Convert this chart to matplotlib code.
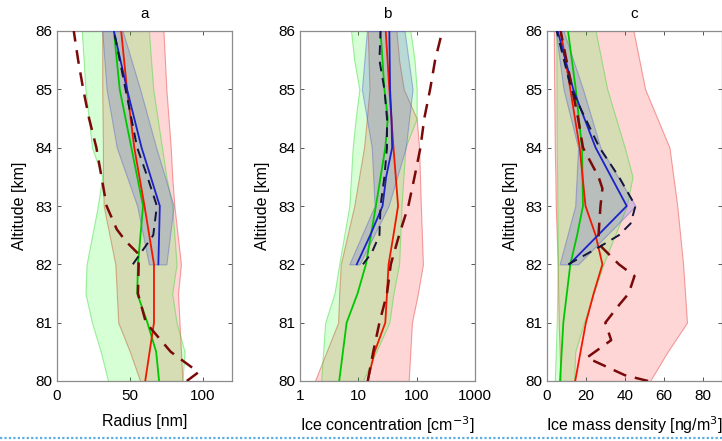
import matplotlib
matplotlib.use("Agg")
import matplotlib.pyplot as plt
from matplotlib.lines import Line2D

plt.rcParams['font.family'] = ['Liberation Sans', 'DejaVu Sans']

# ---------------- Panel a : Radius [nm] ----------------
alt_band_a = [80, 80.5, 81, 81.5, 82, 83, 83.5, 84, 85, 86]
a_green_lo = [35, 30, 24, 19.5, 20.3, 28, 31, 24, 19.5, 17]
a_green_hi = [86, 87.5, 82, 79, 82, 79, 75, 72, 66, 63]
a_red_lo = [57, 50, 42, 41, 40, 32, 31.5, 31.5, 31, 31]
a_red_hi = [86, 85, 84, 83, 85, 80.5, 79, 78, 75, 73]
alt_blue_band = [82, 83, 84, 85, 86]
a_blue_lo = [63, 55, 41, 34, 31]
a_blue_hi = [75, 80, 68, 57, 45]

a_green_alt = [80, 80.5, 81, 81.5, 82, 83, 84, 85, 86]
a_green = [70, 68, 62, 55, 55.5, 59, 51, 43, 39]
a_red_alt = [80, 81, 82, 83, 84, 85, 86]
a_red = [60.5, 66.5, 66.5, 60, 53, 48, 44]
a_blue_alt = [82, 83, 84, 85, 86]
a_blue = [69.5, 70.5, 58, 48, 39]
a_navy_alt = [82, 82.5, 83, 83.5, 84, 85, 85.5, 86]
a_navy = [52, 66, 68.5, 62, 55, 47, 43, 39]
a_maroon_alt = [80, 80.15, 80.5, 81, 81.5, 82, 82.2, 82.4, 82.6, 83, 83.5, 84, 84.5, 85, 85.5, 86]
a_maroon = [89, 97, 78, 61, 55.5, 56, 55, 47, 41, 34, 30.5, 27, 22, 18, 14.5, 11.5]

# ---------------- Panel b : Ice concentration [cm^-3] ----------------
alt_band_b = [80, 81, 81.5, 82, 83, 84, 84.5, 85, 85.5, 86]
b_green_lo = [2.3, 2.7, 3.9, 4.7, 7, 8, 9, 10.4, 8.5, 7.5]
b_green_hi = [12, 34, 40, 50, 55, 64, 100, 100, 92, 78]
b_red_lo = [1.8, 4.5, 4.7, 5, 8.5, 12.5, 14, 15.5, 15, 14.5]
b_red_hi = [73, 83, 105, 128, 118, 110, 100, 60, 50, 45]
b_blue_lo = [7, 19, 17, 11.5, 14]
b_blue_hi = [10.5, 33, 65, 85, 62]

b_green_alt = [80, 81, 81.5, 82, 83, 84, 84.5, 85, 86]
b_green = [4.7, 6.3, 9.7, 13.5, 20, 29, 32, 28, 24]
b_red_alt = [80, 80.5, 81, 81.5, 82, 82.5, 83, 84, 85, 86]
b_red = [14.5, 19, 29, 31, 33, 40, 48, 40, 34, 29.5]
b_blue_alt = [82, 82.5, 83, 83.5, 84, 84.5, 85, 86]
b_blue = [9.4, 16, 26, 30, 38, 37, 35, 34]
b_navy_alt = [82, 82.2, 82.5, 83, 83.5, 84, 84.5, 85, 85.5, 86]
b_navy = [12, 17, 23, 24, 28, 31, 31, 28, 23, 24]
b_maroon_alt = [80, 80.5, 81, 81.5, 82, 82.5, 83, 83.5, 84, 84.5, 85, 85.5, 86]
b_maroon = [14.5, 18, 23, 31, 36, 50, 72, 92, 116, 135, 170, 207, 275]

# ---------------- Panel c : Ice mass density [ng/m^3] ----------------
alt_band_c = [80, 80.5, 81, 82, 82.5, 83, 83.5, 84, 85, 86]
c_green_lo = [4, 4.5, 5, 5.5, 5.5, 5.3, 5.2, 5, 4.9, 4.8]
c_green_hi = [14, 14.5, 19, 29, 35, 41, 44, 40, 31, 25]
c_red_lo = [7, 6.5, 6, 5.5, 5, 4.5, 4.3, 4, 3.7, 3.5]
c_red_hi = [53, 62, 72, 70, 68.5, 67, 65, 63, 50.5, 44.5]
c_blue_lo = [6.5, 14.5, 16, 8.5, 4.5]
c_blue_hi = [16, 45.5, 27.5, 18.5, 8.5]

c_green_alt = [80, 81, 82, 82.5, 83, 84, 85, 86]
c_green = [6.7, 8.4, 12, 15.5, 18.5, 18, 14.8, 10.8]
c_red_alt = [80, 81, 81.5, 82, 82.5, 83, 84, 85, 86]
c_red = [14.5, 20, 24, 28.5, 25, 19.8, 16.8, 12, 7]
c_blue_alt = [82, 83, 84, 85, 86]
c_blue = [11.5, 41, 25, 13.5, 5.5]
c_navy_alt = [82, 82.3, 82.5, 82.7, 83, 83.5, 84, 85, 86]
c_navy = [11, 27, 37, 43, 45.5, 37, 27, 12.5, 5]
c_maroon_alt = [80, 80.1, 80.4, 80.7, 81, 81.3, 81.5, 81.8, 82, 82.3, 82.5, 83, 83.3, 83.5, 84, 84.5, 85, 85.5, 86]
c_maroon = [52, 40, 20.5, 33, 30, 37, 42, 45, 37, 28, 26.5, 27.5, 28.5, 26.5, 18.5, 16, 13, 10, 7]

titles = ['a', 'b', 'c']
xlabels = ['Radius [nm]', 'Ice concentration [cm$^{-3}$]', 'Ice mass density [ng/m$^{3}$]']
xlims = [(0, 120), (1, 1000), (0, 90)]
xticks = [[0, 50, 100], [1, 10, 100, 1000], [0, 20, 40, 60, 80]]
xticklabels = [['0', '50', '100'], ['1', '10', '100', '1000'], ['0', '20', '40', '60', '80']]
yticks = [80, 81, 82, 83, 84, 85, 86]

panels = [
    dict(band_alt=alt_band_a, g_lo=a_green_lo, g_hi=a_green_hi, r_lo=a_red_lo, r_hi=a_red_hi,
         b_lo=a_blue_lo, b_hi=a_blue_hi,
         lines=[(a_green, a_green_alt, 'g'), (a_red, a_red_alt, 'r'), (a_blue, a_blue_alt, 'b'),
                (a_maroon, a_maroon_alt, 'm'), (a_navy, a_navy_alt, 'n')]),
    dict(band_alt=alt_band_b, g_lo=b_green_lo, g_hi=b_green_hi, r_lo=b_red_lo, r_hi=b_red_hi,
         b_lo=b_blue_lo, b_hi=b_blue_hi,
         lines=[(b_green, b_green_alt, 'g'), (b_red, b_red_alt, 'r'), (b_blue, b_blue_alt, 'b'),
                (b_maroon, b_maroon_alt, 'm'), (b_navy, b_navy_alt, 'n')]),
    dict(band_alt=alt_band_c, g_lo=c_green_lo, g_hi=c_green_hi, r_lo=c_red_lo, r_hi=c_red_hi,
         b_lo=c_blue_lo, b_hi=c_blue_hi,
         lines=[(c_green, c_green_alt, 'g'), (c_red, c_red_alt, 'r'), (c_blue, c_blue_alt, 'b'),
                (c_maroon, c_maroon_alt, 'm'), (c_navy, c_navy_alt, 'n')]),
]

styles = {
    'g': dict(color='#00C800', lw=1.3, ls='-'),
    'r': dict(color='#F01800', lw=1.3, ls='-'),
    'b': dict(color='#1A22C8', lw=1.3, ls='-'),
    'm': dict(color='#7A0A0A', lw=1.8, dashes=(5.5, 3.5)),
    'n': dict(color='#14143C', lw=1.4, dashes=(5, 3.5)),
}

W, H = 722, 441
fig = plt.figure(figsize=(W / 100, H / 100), dpi=100)
lefts = [57, 300, 547]
aw = 175
top, bottom = 31, 381

for i, p in enumerate(panels):
    ax = fig.add_axes([lefts[i] / W, 1 - bottom / H, aw / W, (bottom - top) / H])
    if i == 1:
        ax.set_xscale('log')
    ax.fill_betweenx(p['band_alt'], p['r_lo'], p['r_hi'], facecolor=(1, 0, 0, 0.16),
                     edgecolor=(0.9, 0.2, 0.2, 0.45), lw=0.8, zorder=1)
    ax.fill_betweenx(p['band_alt'], p['g_lo'], p['g_hi'], facecolor=(0, 1, 0, 0.16),
                     edgecolor=(0.2, 0.85, 0.2, 0.45), lw=0.8, zorder=2)
    ax.fill_betweenx(alt_blue_band, p['b_lo'], p['b_hi'], facecolor=(0.35, 0.38, 0.85, 0.24),
                     edgecolor=(0.35, 0.4, 0.8, 0.45), lw=0.8, zorder=3)
    for vals, alts, key in p['lines']:
        st = styles[key]
        kw = dict(color=st['color'], lw=st['lw'], zorder=5)
        if 'dashes' in st:
            kw['dashes'] = st['dashes']
        else:
            kw['ls'] = st['ls']
        ax.plot(vals, alts, **kw)
    ax.set_xlim(*xlims[i])
    ax.set_ylim(80, 86)
    ax.set_xticks(xticks[i])
    ax.set_xticklabels(xticklabels[i])
    ax.minorticks_off()
    ax.set_yticks(yticks)
    ax.set_yticklabels([str(v) for v in yticks])
    ax.tick_params(direction='in', length=3, width=0.7, color='#555555', top=True, right=True,
                   labelsize=11)
    ax.tick_params(axis='x', pad=6)
    ax.tick_params(axis='y', pad=3)
    for s in ax.spines.values():
        s.set_color('#8C8C8C')
        s.set_linewidth(0.9)
    ax.set_title(titles[i], fontsize=11, pad=9)
    ax.set_xlabel(xlabels[i], fontsize=11.5, labelpad=8)
    ax.set_ylabel('Altitude [km]', fontsize=11.5, labelpad=6)

fig.add_artist(Line2D([0, 1], [1 - 438 / H, 1 - 438 / H], transform=fig.transFigure,
                      color='#5AAFE0', lw=1.6, ls=(0, (1, 1))))

fig.savefig('out.png', dpi=100)
